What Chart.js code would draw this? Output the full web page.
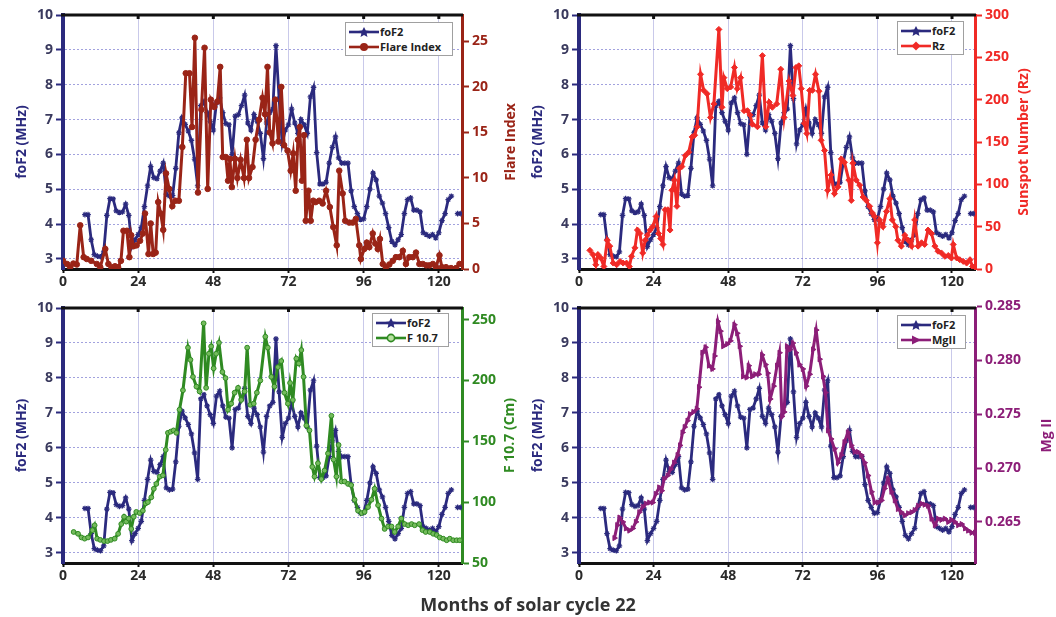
<!DOCTYPE html>
<html>
<head>
<meta charset="utf-8">
<script src="https://cdn.jsdelivr.net/npm/chart.js@4.4.1/dist/chart.umd.min.js"></script>
<style>
  body { margin: 0; background: #fff; width: 1056px; height: 617px; position: relative; overflow: hidden; font-family: "Open Sans", sans-serif; }
  canvas { position: absolute; }
  .legend { position: absolute; background: #fff; border: 1px solid #a0a0a0; box-sizing: border-box; padding: 1px 3px; font: bold 11px "Open Sans", sans-serif; color: #222; }
  .legend .row { display: flex; align-items: center; height: 15px; white-space: nowrap; }
  .legend svg { margin-right: 1px; }
  .xtitle { position: absolute; left: 0; width: 1056px; top: 592px; text-align: center; font: bold 18px "Open Sans", sans-serif; color: #333; }
</style>
</head>
<body>
<canvas id="p1" width="528" height="295" style="left:0;top:0"></canvas>
<canvas id="p2" width="540" height="295" style="left:516px;top:0"></canvas>
<canvas id="p3" width="528" height="300" style="left:0;top:293px"></canvas>
<canvas id="p4" width="540" height="300" style="left:516px;top:293px"></canvas>
<div class="xtitle">Months of solar cycle 22</div>

<script>
/* TICKS */
const monthTicks = [0, 24, 48, 72, 96, 120];
const fof2Ticks = [3, 4, 5, 6, 7, 8, 9, 10];
const flareTicks = [0, 5, 10, 15, 20, 25];
const rzTicks = [0, 50, 100, 150, 200, 250, 300];
const f107Ticks = [50, 100, 150, 200, 250];
const mgTicks = [0.265, 0.270, 0.275, 0.280, 0.285];

/* foF2 (monthly, same in every panel) */
const fof2Months = [
  7, 8, 9, 10, 11, 12, 13, 14, 15, 16,
  17, 18, 19, 20, 21, 22, 23, 24, 25, 26,
  27, 28, 29, 30, 31, 32, 33, 34, 35, 36,
  37, 38, 39, 40, 41, 42, 43, 44, 45, 46,
  47, 48, 49, 50, 51, 52, 53, 54, 55, 56,
  57, 58, 59, 60, 61, 62, 63, 64, 65, 66,
  67, 68, 69, 70, 71, 72, 73, 74, 75, 76,
  77, 78, 79, 80, 81, 82, 83, 84, 85, 86,
  87, 88, 89, 90, 91, 92, 93, 94, 95, 96,
  97, 98, 99, 100, 101, 102, 103, 104, 105, 106,
  107, 108, 109, 110, 111, 112, 113, 114, 115, 116,
  117, 118, 119, 120, 121, 122, 123, 124, 125, 126,
  127
];
const fof2Values = [
  4.27, 4.27, 3.55, 3.12, 3.08, 3.06, 3.2, 4.25, 4.73, 4.72,
  4.38, 4.33, 4.35, 4.57, 4.25, 3.35, 3.55, 3.7, 3.9, 4.5,
  5.1, 5.65, 5.33, 5.3, 5.52, 5.75, 4.86, 4.8, 4.82, 5.6,
  6.62, 7.05, 6.86, 6.67, 6.4, 5.86, 5.1, 7.4, 7.52, 7.2,
  6.95, 6.7, 7.48, 7.62, 7.2, 6.88, 6.85, 6.0, 7.1, 7.14,
  7.4, 7.7, 6.9, 6.7, 7.14, 6.95, 6.6, 5.88, 6.9, 7.2,
  7.3, 9.12, 7.6, 6.3, 6.7, 6.85, 7.3, 6.9, 6.6, 7.0,
  6.85, 6.6, 7.65, 7.92, 6.05, 5.15, 5.15, 5.2, 5.75, 6.2,
  6.5, 5.9, 5.75, 5.75, 5.75, 4.95, 4.5, 4.3, 4.13, 4.15,
  4.5, 5.0, 5.46, 5.27, 4.8, 4.6, 4.3, 3.9, 3.5, 3.4,
  3.55, 3.7, 4.3, 4.7, 4.75, 4.4, 4.4, 4.35, 3.75, 3.7,
  3.65, 3.7, 3.6, 3.75, 4.1, 4.3, 4.7, 4.8, null, 4.3,
  4.3
];

/* Flare Index */
const flareMonths = [
  0, 1.3, 2.3, 3.3, 4.4, 5.5, 6.6, 7.6, 9, 10.8,
  11.9, 13.5, 14.5, 15.5, 16.6, 17.6, 18.5, 19.3, 20.4, 21.2,
  21.8, 22.5, 23.5, 24.6, 25.5, 26.2, 27.3, 28, 28.8, 29.6,
  30.4, 31.2, 32, 32.9, 33.9, 34.9, 35.9, 37, 38.1, 39.2,
  40.4, 41.2, 42.1, 43.1, 44.2, 45.2, 46.2, 47.2, 48.3, 49.3,
  50.2, 51, 52, 52.7, 53.3, 53.9, 54.9, 55.7, 56.7, 57.8,
  58.7, 59.4, 60.5, 61.5, 62.6, 63.7, 64.5, 65.3, 66, 66.9,
  67.8, 68.8, 69.7, 70.6, 71.7, 72.7, 73.5, 74.3, 75, 75.6,
  76.3, 77, 77.5, 78.4, 79.1, 79.9, 80.7, 81.8, 82.9, 84,
  85.2, 86.3, 87.4, 88.2, 89.3, 90.1, 91.4, 92.5, 93.5, 94.6,
  95.1, 96.2, 97, 97.8, 98.9, 99.7, 100.5, 101.2, 102.1, 103.1,
  104.2, 105.3, 106.3, 107.4, 108.5, 109.5, 110.6, 111.7, 112.7, 113.8,
  114.9, 116, 117, 118.1, 119.1, 120.2, 121, 122.3, 123.9, 125.5,
  126.6
];
const flareValues = [
  0.9, 0.55, 0.2, 0.6, 0.5, 4.8, 1.3, 1.1, 0.9, 0.55,
  0.2, 2.2, 0.55, 0.2, 0.3, 0.2, 0.9, 4.2, 4.2, 1.3,
  3.7, 2.5, 2.6, 3.1, 3.9, 6.1, 1.65, 5.0, 1.65, 1.8,
  7.35, 6.1, 4.3, 10.5, 8.8, 6.9, 7.5, 7.5, 13.4, 21.5,
  21.5, 15.6, 25.4, 8.4, 17.5, 24.3, 8.8, 18.6, 17.8, 18.4,
  22.2, 12.3, 12.3, 9.7, 12.1, 9, 12.1, 10, 12, 10,
  14.2, 10, 11.2, 14.2, 16.4, 18.8, 17, 22.2, 15, 13.8,
  18.6, 14, 20, 13.6, 13, 10.8, 12.7, 8.6, 14.2, 15.6,
  9.7, 14.7, 5.3, 8.6, 5.3, 7.5, 7.35, 7.5, 7.2, 8.6,
  6.8, 4.6, 2.6, 10.8, 8.3, 5.3, 5.1, 5.1, 5.5, 2.6,
  1.1, 2.2, 2.9, 2.4, 3.9, 2.8, 2.2, 3.3, 0.55, 0.2,
  0.5, 0.9, 1.3, 1.3, 2.0, 0.55, 1.3, 1.3, 1.8, 0.55,
  0.55, 0.4, 0.4, 0.55, 0.2, 1.5, 0.2, 0.2, 0.1, 0.1,
  0.55
];

/* Sunspot number Rz */
const rzMonths = [
  3.5, 4.5, 5.4, 6.1, 7, 8, 9.1, 9.9, 11, 12.1,
  13.2, 14.2, 15.3, 16.2, 16.9, 18, 18.8, 19.6, 20.5, 21.3,
  22, 22.9, 23.7, 24.8, 25.6, 26.3, 27, 27.7, 28.6, 29.3,
  29.9, 30.7, 31.5, 32.3, 33.1, 34.2, 35.3, 36.4, 37.2, 38,
  39.1, 40.1, 41.2, 42.3, 43.4, 45, 46, 46.6, 47.7, 48.8,
  50, 50.9, 52, 53.1, 54.2, 55, 55.8, 57.4, 59, 60.1,
  61.2, 62.2, 63.6, 64.9, 66, 67.6, 68.8, 69.8, 70.7, 71.5,
  72.5, 73.3, 74.2, 75.1, 76.1, 77.2, 77.9, 79, 80, 81.1,
  82.2, 83.3, 84.4, 85.4, 86.8, 87.6, 88.1, 89.2, 90.3, 91.4,
  92.4, 93.5, 94.4, 95.1, 96, 96.7, 97.8, 98.9, 100, 100.8,
  101.9, 102.6, 103.7, 104.8, 105.9, 107, 108, 109.1, 110.2, 111.2,
  112.3, 113.4, 114.5, 115.5, 116.6, 117.7, 118.8, 119.8, 120.4, 121.5,
  122.5, 123.6, 124.7, 125.8, 126.6
];
const rzValues = [
  22, 17, 5, 17, 13, 3, 34, 27, 7, 5,
  9, 7, 7, 3, 15, 25, 46, 42, 19, 34,
  40, 46, 50, 62, 42, 36, 29, 70, 70, 46,
  93, 105, 74, 119, 121, 134, 138, 156, 158, 168,
  230, 211, 207, 179, 195, 283, 191, 226, 213, 215,
  238, 213, 226, 187, 187, 182, 171, 168, 252, 168,
  197, 191, 195, 236, 179, 222, 205, 238, 240, 213,
  172, 160, 211, 211, 230, 210, 152, 140, 93, 111,
  89, 97, 130, 126, 105, 81, 125, 105, 99, 85,
  81, 74, 66, 62, 31, 58, 50, 68, 83, 58,
  50, 34, 27, 40, 34, 27, 58, 27, 31, 29,
  46, 42, 27, 21, 19, 15, 16, 13, 29, 13,
  11, 9, 7, 11, 3
];

/* F 10.7 */
const f107Months = [
  3.4, 4.8, 5.9, 6.9, 8, 9.4, 10.1, 10.9, 11.9, 13.1,
  14.2, 15.3, 16.5, 17.6, 18.6, 19.5, 20.2, 21, 21.8, 22.6,
  23.4, 24.5, 25.5, 26.4, 27.1, 28.2, 29, 29.8, 30.9, 31.9,
  32.8, 33.5, 34.4, 35.3, 36.2, 37.2, 38.3, 39.9, 40.7, 41.5,
  42.6, 43.6, 44.9, 45.7, 46.6, 47.3, 48.1, 48.9, 49.8, 50.9,
  51.9, 52.7, 53.7, 54.8, 55.9, 56.9, 58, 58.8, 59.8, 60.9,
  61.9, 63, 64.6, 65.4, 66.5, 67.5, 68.6, 69.7, 70.7, 71.8,
  72.5, 73.4, 74.5, 75.3, 76.1, 76.8, 77.7, 78.7, 79.6, 80.3,
  81.4, 82.5, 83.5, 84.6, 85.7, 86.4, 87.3, 88, 88.9, 89.9,
  91, 92, 93.1, 94.2, 95.3, 96.3, 97.4, 98.5, 99.5, 100.6,
  101.7, 102.7, 103.8, 104.9, 105.9, 107, 108, 109.1, 110.2, 111.3,
  112.3, 113.7, 114.8, 115.8, 117.1, 118.2, 119.3, 120.3, 121.4, 122.5,
  123.5, 124.6, 125.7, 126.7
];
const f107Values = [
  75.5, 74, 71, 70, 71, 77, 81, 70, 69, 68,
  68, 69, 70, 74, 82, 88, 84, 86.5, 78, 88,
  92, 91, 93, 99, 100, 104, 111, 115, 121, 122,
  143, 157, 158, 159, 157, 176, 192, 227, 217, 203,
  195, 191, 247, 194, 222, 228, 210, 222, 231, 207,
  202, 176, 181, 190, 194, 184, 191, 227, 180, 181,
  190, 200, 236, 227, 203, 195, 211, 216, 190, 181,
  198, 184, 218, 214, 225, 203, 163, 159, 129, 121,
  132, 119, 126, 140, 171, 135, 121, 147, 117, 117,
  115, 114, 102, 93, 91, 92, 96, 102, 111, 97.5,
  86.5, 78, 80, 80, 75.5, 80, 86.5, 82, 81, 82,
  81, 82, 77, 75.5, 75.5, 74, 73, 71, 70, 68.7,
  70, 68.7, 68.7, 68.7
];

/* Mg II */
const mgMonths = [
  11.4, 12.3, 13, 14.1, 15.1, 16.2, 17.3, 18.3, 19.4, 20.5,
  21.5, 22.6, 23.7, 24.7, 25.8, 26.6, 27.4, 28.5, 29.5, 30.6,
  31.7, 32.5, 33.3, 34, 34.9, 35.7, 36.8, 37.9, 38.6, 39.7,
  40.7, 41.8, 42.9, 43.6, 44.7, 45.5, 46.4, 47.7, 48.7, 50,
  50.9, 51.7, 52.8, 53.9, 54.6, 55.7, 56.7, 57.8, 58.9, 60,
  60.7, 61.5, 62.6, 63.7, 64.5, 65.3, 66, 66.9, 67.9, 68.8,
  69.8, 70.9, 72, 73.1, 74.2, 75.3, 76.3, 77.4, 78.5, 79.3,
  80.1, 81.1, 82.2, 83.3, 84.4, 85.4, 86.5, 87.6, 88.7, 89.7,
  90.8, 91.9, 93, 94.1, 95.1, 96.2, 97.3, 98.3, 99.4, 100.5,
  101.6, 102.6, 103.7, 104.8, 105.9, 107, 108, 109.1, 110.2, 111.2,
  112.3, 113.4, 114.5, 115.5, 116.6, 117.7, 118.8, 119.8, 120.9, 122,
  123.1, 124.2, 125.2, 126.3, 127.4
];
const mgValues = [
  0.2635, 0.2647, 0.2654, 0.2650, 0.2644, 0.2642, 0.2644, 0.2650, 0.2659, 0.2664,
  0.2667, 0.2668, 0.2668, 0.2676, 0.2682, 0.2679, 0.2690, 0.2693, 0.2699, 0.2705,
  0.2712, 0.2721, 0.2733, 0.2738, 0.2744, 0.2750, 0.2752, 0.2755, 0.2775, 0.2807,
  0.2812, 0.2795, 0.2792, 0.2804, 0.2836, 0.2827, 0.2813, 0.2815, 0.2818, 0.2833,
  0.2825, 0.2813, 0.2785, 0.2784, 0.2795, 0.2785, 0.2787, 0.2787, 0.2805, 0.2796,
  0.2788, 0.2764, 0.2776, 0.2795, 0.2807, 0.2748, 0.2752, 0.2813, 0.2810, 0.2816,
  0.2807, 0.2796, 0.2792, 0.2776, 0.2787, 0.2810, 0.2828, 0.2801, 0.2785, 0.2770,
  0.2735, 0.2727, 0.2718, 0.2705, 0.2712, 0.2724, 0.2733, 0.2721, 0.2715, 0.2715,
  0.2712, 0.2705, 0.2693, 0.2678, 0.2668, 0.2668, 0.2670, 0.2681, 0.2690, 0.2678,
  0.2670, 0.2662, 0.2659, 0.2656, 0.2658, 0.2659, 0.2661, 0.2665, 0.2667, 0.2666,
  0.2665, 0.2653, 0.2647, 0.2653, 0.2652, 0.2653, 0.2650, 0.2652, 0.2650, 0.2647,
  0.2648, 0.2644, 0.2642, 0.2640, 0.2640
];

const NAVY = "#2b2a7e";
const FONT = "'Open Sans', sans-serif";

function toPoints(xs, ys) {
  return xs.map((x, i) => ({ x: x, y: ys[i] }));
}

function fixedTicks(list) {
  return scale => { scale.ticks = list.map(v => ({ value: v })); };
}

/* black top frame line + small inward ticks */
const topFrame = {
  id: "topFrame",
  afterDraw(chart) {
    const { ctx, chartArea: a, scales } = chart;
    ctx.save();
    ctx.strokeStyle = "#111";
    ctx.lineWidth = 3;
    ctx.beginPath();
    ctx.moveTo(a.left - 2, a.top);
    ctx.lineTo(a.right + 1, a.top);
    ctx.stroke();
    monthTicks.forEach(v => {
      const px = scales.x.getPixelForValue(v);
      if (px <= a.left + 2) return;
      ctx.beginPath();
      ctx.moveTo(px, a.top);
      ctx.lineTo(px, a.top + 4);
      ctx.stroke();
    });
    ctx.restore();
  }
};

/* right axis title, reading bottom to top like the left one */
const rightTitle = {
  id: "rightTitle",
  afterDraw(chart, args, opts) {
    const { ctx, chartArea: a } = chart;
    const s = chart.scales.y2;
    ctx.save();
    ctx.translate(s.right - opts.offset, (a.top + a.bottom) / 2);
    ctx.rotate(-Math.PI / 2);
    ctx.textAlign = "center";
    ctx.textBaseline = "middle";
    ctx.font = "bold 14px " + FONT;
    ctx.fillStyle = opts.color;
    ctx.fillText(opts.text, 0, 0);
    ctx.restore();
  }
};

function makePanel(id, p) {
  const ctx = document.getElementById(id).getContext("2d");
  return new Chart(ctx, {
    type: "line",
    data: {
      datasets: [
        {
          label: p.label,
          data: toPoints(p.months, p.values),
          yAxisID: "y2",
          order: 1,
          borderColor: p.color,
          backgroundColor: p.color,
          borderWidth: 3,
          pointStyle: p.marker,
          pointRotation: p.rotation || 0,
          pointRadius: p.radius || 2.6,
          pointBackgroundColor: p.fill || p.color,
          pointBorderColor: p.color,
          pointBorderWidth: 1,
          tension: 0
        },
        {
          label: "foF2",
          data: toPoints(fof2Months, fof2Values),
          yAxisID: "y",
          order: 2,
          borderColor: NAVY,
          backgroundColor: NAVY,
          borderWidth: 2.8,
          pointStyle: "star",
          pointRadius: 2.8,
          pointBorderColor: NAVY,
          pointBorderWidth: 1.2,
          spanGaps: false,
          tension: 0
        }
      ]
    },
    options: {
      responsive: false,
      animation: false,
      layout: { padding: { top: 15, left: 0, right: 0, bottom: 0 } },
      plugins: {
        legend: { display: false },
        tooltip: { enabled: false },
        rightTitle: { text: p.title, color: p.color, offset: p.titleOffset }
      },
      scales: {
        x: {
          type: "linear",
          min: 0,
          max: 127.4,
          afterBuildTicks: fixedTicks(monthTicks),
          afterFit: s => { s.height = p.xHeight; },
          ticks: { font: { family: FONT, size: 14, weight: "bold" }, color: "#2a2a2a", padding: 1, maxRotation: 0, autoSkip: false },
          grid: { color: "rgba(165,165,220,0.6)", lineWidth: 1, tickLength: 4, tickColor: "#111", tickWidth: 2 },
          border: { color: "#111", width: 3 }
        },
        y: {
          position: "left",
          min: 2.71,
          max: 10,
          afterBuildTicks: fixedTicks(fof2Ticks),
          afterFit: s => { s.width = 63; },
          ticks: { font: { family: FONT, size: 14, weight: "bold" }, color: "#3a3a5e", padding: 3 },
          title: { display: true, text: "foF2 (MHz)", color: NAVY, font: { family: FONT, size: 14, weight: "bold" }, padding: { top: 14, bottom: 0 } },
          grid: { color: "rgba(100,100,200,0.6)", lineWidth: 1, tickLength: 7, tickColor: NAVY, tickWidth: 2 },
          border: { color: NAVY, width: 4, dash: [2, 2] }
        },
        y2: {
          position: "right",
          min: p.min,
          max: p.max,
          afterBuildTicks: fixedTicks(p.ticks),
          afterFit: s => { s.width = p.rightWidth; },
          ticks: {
            font: { family: FONT, size: 14, weight: "bold" },
            color: p.color,
            padding: 3,
            callback: p.format || (v => v)
          },
          grid: { drawOnChartArea: false, tickLength: 7, tickColor: p.color, tickWidth: 2 },
          border: { color: p.color, width: 3 }
        }
      }
    },
    plugins: [topFrame, rightTitle]
  });
}

makePanel("p1", {
  label: "Flare Index", months: flareMonths, values: flareValues,
  color: "#9a2417", marker: "circle", radius: 2.8,
  min: 0, max: 27.9, ticks: flareTicks, title: "Flare Index",
  rightWidth: 66, titleOffset: 17, xHeight: 26
});
makePanel("p2", {
  label: "Rz", months: rzMonths, values: rzValues,
  color: "#f02a26", marker: "rectRot", radius: 3,
  min: 0, max: 300, ticks: rzTicks, title: "Sunspot Number (Rz)",
  rightWidth: 81, titleOffset: 32, xHeight: 26
});
makePanel("p3", {
  label: "F 10.7", months: f107Months, values: f107Values,
  color: "#2f8a22", fill: "#74bb5c", marker: "circle", radius: 2.4,
  min: 50, max: 259.6, ticks: f107Ticks, title: "F 10.7 (Cm)",
  rightWidth: 66, titleOffset: 18, xHeight: 30
});
makePanel("p4", {
  label: "MgII", months: mgMonths, values: mgValues,
  color: "#8c1e78", marker: "triangle", rotation: 90, radius: 3,
  min: 0.26119, max: 0.28485, ticks: mgTicks, title: "Mg II",
  format: v => v.toFixed(3),
  rightWidth: 81, titleOffset: 9, xHeight: 30
});

/* LEGENDS (html boxes inside the plot areas) */
const legends = [
  { left: 345, top: 22, width: 108, items: [["foF2", NAVY, "star"], ["Flare Index", "#9a2417", "circle"]] },
  { left: 897, top: 21, width: 67, items: [["foF2", NAVY, "star"], ["Rz", "#f02a26", "diamond"]] },
  { left: 372, top: 313, width: 77, items: [["foF2", NAVY, "star"], ["F 10.7", "#2f8a22", "ring"]] },
  { left: 897, top: 315, width: 69, items: [["foF2", NAVY, "star"], ["MgII", "#8c1e78", "tri"]] }
];

function markerSvg(kind, c) {
  if (kind === "star") return `<polygon points="15,0 16.8,3.6 20.5,4 17.6,6.5 18.5,10 15,8 11.5,10 12.4,6.5 9.5,4 13.2,3.6" fill="${c}"/>`;
  if (kind === "circle") return `<circle cx="15" cy="5" r="4" fill="${c}"/>`;
  if (kind === "ring") return `<circle cx="15" cy="5" r="3.6" fill="#b8e0a0" stroke="${c}" stroke-width="1.6"/>`;
  if (kind === "diamond") return `<polygon points="15,0.5 19.5,5 15,9.5 10.5,5" fill="${c}"/>`;
  return `<polygon points="11,0.5 20,5 11,9.5" fill="${c}"/>`;
}

legends.forEach(l => {
  const box = document.createElement("div");
  box.className = "legend";
  box.style.left = l.left + "px";
  box.style.top = l.top + "px";
  box.style.width = l.width + "px";
  l.items.forEach(([text, color, kind]) => {
    const row = document.createElement("div");
    row.className = "row";
    row.innerHTML = `<svg width="30" height="10"><line x1="0" y1="5" x2="30" y2="5" stroke="${color}" stroke-width="2.6"/>${markerSvg(kind, color)}</svg><span>${text}</span>`;
    box.appendChild(row);
  });
  document.body.appendChild(box);
});
</script>
</body>
</html>
